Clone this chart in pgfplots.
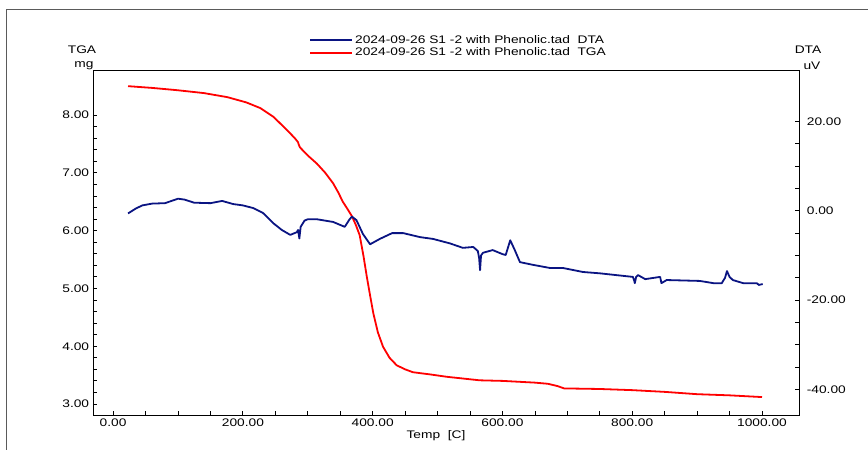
\documentclass[border=0pt]{standalone}
\usepackage{fontspec}
\setmainfont{Liberation Sans}[FakeStretch=1.25]
\usepackage{pgfplots}
\usepackage{pgfplotstable}
\pgfplotsset{compat=1.18}
\definecolor{dtaBlue}{RGB}{10,20,130}
\definecolor{frameGray}{RGB}{90,90,90}

% TGA (mg) vs temperature
\pgfplotstableread{
T m
23 8.50
60 8.47
99 8.43
140 8.38
176 8.31
205 8.22
227 8.12
247 7.97
268 7.74
280 7.60
285 7.53
286 7.49
288 7.44
300 7.30
314 7.16
327 7.00
339 6.82
347 6.66
354 6.50
362 6.36
368 6.25
374 6.10
380 5.92
386 5.55
391 5.20
396 4.88
401 4.57
408 4.24
416 3.99
426 3.80
437 3.67
450 3.60
462 3.55
490 3.51
515 3.47
565 3.41
600 3.40
650 3.37
670 3.35
685 3.31
695 3.27
750 3.26
800 3.24
850 3.21
900 3.17
950 3.15
1000 3.12
}\tga

% DTA (uV) vs temperature
\pgfplotstableread{
T v
23 -0.6
35 0.5
45 1.2
60 1.6
80 1.7
92 2.3
100 2.7
110 2.5
125 1.8
150 1.7
168 2.2
185 1.5
200 1.2
216 0.6
231 -0.5
247 -2.8
260 -4.3
273 -5.4
283 -4.8
285 -4.3
287 -6.2
289 -3.6
295 -2.2
300 -1.9
314 -1.9
339 -2.5
357 -3.6
364 -2.0
368 -1.3
375 -2.1
385 -5.2
396 -7.5
411 -6.3
430 -5.0
447 -5.0
473 -5.9
493 -6.3
519 -7.3
539 -8.3
555 -8.1
562 -9.0
564 -10.5
565.5 -13.3
567 -10.0
570 -9.4
585 -8.8
600 -9.7
605 -9.9
612 -6.6
619 -8.8
627 -11.5
647 -12.1
673 -12.8
693 -12.8
724 -13.7
750 -14.0
801 -14.8
803 -15.6
804 -16.2
806 -14.8
809 -14.4
820 -15.3
843 -14.8
845 -16.2
853 -15.5
904 -15.7
925 -16.2
938 -16.2
943 -15.0
946 -13.5
950 -14.8
955 -15.5
971 -16.2
992 -16.2
995 -16.6
1001 -16.4
}\dta

\begin{document}
\fontsize{11}{13}\selectfont
\begin{tikzpicture}
\pgfplotsset{
  common/.style={
    scale only axis, width=706pt, height=345pt,
    xmin=-31, xmax=1057,
    tick align=inside,
    major tick length=4pt, minor tick length=4pt,
    tick style={black, line width=0.8pt},
    axis line style={line width=0.9pt},
    /pgf/number format/fixed,
    /pgf/number format/fixed zerofill,
    /pgf/number format/precision=2,
    /pgf/number format/1000 sep={},
    /pgf/number format/assume math mode=true,
  },
}
\begin{axis}[
    common,
    ymin=2.81, ymax=8.78,
    xtick={0,200,...,1000}, minor x tick num=3,
    ytick={3,...,8}, minor y tick num=4,
    xtick pos=bottom, ytick pos=left,
  ]
  \addplot[red, line width=1.8pt, line join=round] table[x=T, y=m] {\tga};
\end{axis}
\begin{axis}[
    common,
    axis y line*=right, axis x line=none,
    ymin=-45.7, ymax=31.5,
    ytick={-40,-20,0,20}, minor y tick num=3,
    yticklabel style={xshift=4pt},
    legend style={at={(0.3017,1.1115)}, anchor=north west, draw=none, fill=none,
      nodes={inner ysep=1.5pt}},
    legend cell align=left,
    legend image code/.code={\draw[#1, line width=2pt] (0pt,0pt) -- (42pt,0pt);},
  ]
  \addplot[dtaBlue, line width=1.8pt, line join=round, forget plot] table[x=T, y=v] {\dta};
  \addlegendimage{dtaBlue}
  \addlegendentry{2024-09-26 S1 -2 with Phenolic.tad\ \ DTA}
  \addlegendimage{red}
  \addlegendentry{2024-09-26 S1 -2 with Phenolic.tad\ \ TGA}
\end{axis}
\node at ([shift={(-11pt,365pt)}]current axis.south west) {TGA};
\node at ([shift={(-9pt,349pt)}]current axis.south west) {mg};
\node at ([shift={(715pt,365pt)}]current axis.south west) {DTA};
\node at ([shift={(719pt,349pt)}]current axis.south west) {uV};
\node at ([shift={(343pt,-21pt)}]current axis.south west) {Temp\ \ [C]};
\draw[frameGray, line width=1pt] ([shift={(-86pt,-40pt)}]current axis.south west)
  |- ([shift={(780pt,405pt)}]current axis.south west);
\pgfresetboundingbox
\path[use as bounding box] ([shift={(-93pt,-35pt)}]current axis.south west)
  rectangle ([shift={(69pt,70pt)}]current axis.north east);
\end{tikzpicture}
\end{document}
